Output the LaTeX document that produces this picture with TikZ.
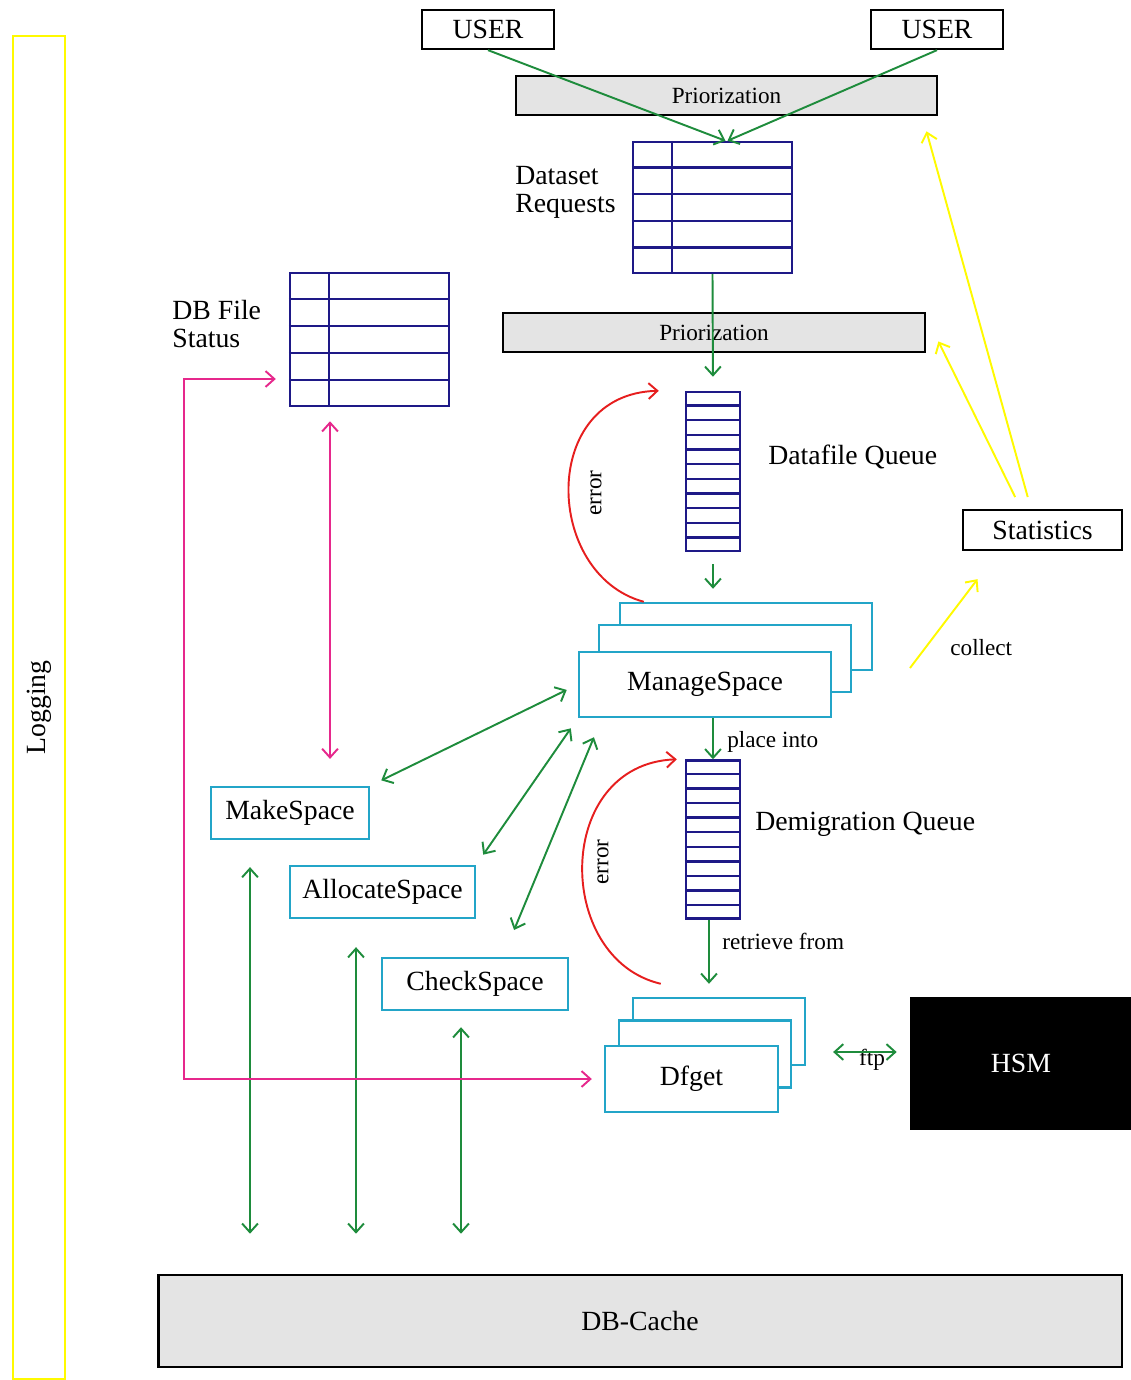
\documentclass[tikz,border=0pt]{standalone}
\usepackage{fontspec}
\setmainfont{Liberation Serif}
\usetikzlibrary{arrows.meta,calc}
\pgfdeclarelayer{bg}
\pgfsetlayers{bg,main}

\definecolor{navytab}{RGB}{30,25,135}
\definecolor{cyanbox}{RGB}{35,165,200}
\definecolor{flowgreen}{RGB}{30,140,60}
\definecolor{errred}{RGB}{230,30,30}
\definecolor{linkpink}{RGB}{230,40,140}
\definecolor{statyellow}{RGB}{255,250,0}
\definecolor{bargray}{RGB}{228,228,228}

\tikzset{
  bigtext/.style={font=\fontsize{15.8}{16}\selectfont},
  smalltext/.style={font=\fontsize{13.2}{14}\selectfont},
  blackbox/.style={draw=black, line width=1.3pt, inner sep=0pt, bigtext},
  graybar/.style={draw=black, fill=bargray, line width=1.6pt, inner sep=0pt},
  tabbox/.style={draw=navytab, line width=1.4pt, inner sep=0pt},
  tabline/.style={draw=navytab, line width=1.4pt},
  proc/.style={draw=cyanbox, fill=white, line width=1.4pt, inner sep=0pt, bigtext},
  garr/.style={draw=flowgreen, line width=1.1pt, ->},
  gdbl/.style={draw=flowgreen, line width=1.1pt, <->},
  yarr/.style={draw=statyellow, line width=1.1pt, ->},
  parr/.style={draw=linkpink, line width=1.1pt, <->},
  rarr/.style={draw=errred, line width=1.1pt, ->},
  >={Straight Barb[length=5pt,width=9pt]},
}

\begin{document}
\begin{tikzpicture}[x=0.02cm, y=-0.02cm]
        \useasboundingbox (0,0) rectangle (1130,1380);
        \node (log) [draw=statyellow, line width=1.3pt, minimum width=26.86cm, minimum height=1.04cm, inner sep=0pt, rotate=90, bigtext] at (39, 707.5) {Logging};
        \node (u1) [blackbox, minimum width=2.64cm, minimum height=0.78cm] at (488, 29.5) {USER};
        \node (u2) [blackbox, minimum width=2.64cm, minimum height=0.78cm] at (937, 29.5) {USER};
        \node (p1) [graybar, minimum width=8.42cm, minimum height=0.78cm, smalltext] at (726.5, 95.5) {Priorization};
        \node (dsr) [tabbox, minimum width=3.18cm, minimum height=2.62cm] at (712.5, 207.5) {};
        \node (lds) [bigtext, align=left, anchor=west, inner sep=0pt] at (515, 192) {Dataset\\Requests};
        \node (dbf) [tabbox, minimum width=3.18cm, minimum height=2.66cm] at (369.5, 339.5) {};
        \node (ldbf) [bigtext, align=left, anchor=west, inner sep=0pt] at (172, 324) {DB File\\Status};
        \node (p2) [graybar, minimum width=8.44cm, minimum height=0.78cm, smalltext] at (714, 332.5) {Priorization};
        \node (dfq) [tabbox, minimum width=1.08cm, minimum height=3.18cm] at (713, 471.5) {};
        \node (ldfq) [bigtext, anchor=west, inner sep=0pt] at (768, 457) {Datafile Queue};
        \node (st) [blackbox, minimum width=3.18cm, minimum height=0.8cm] at (1042.5, 530) {Statistics};
        \begin{pgfonlayer}{bg}
                \node (msb) [proc, minimum width=5.04cm, minimum height=1.34cm] at (746, 636.5) {};
                \node (msm) [proc, minimum width=5.04cm, minimum height=1.34cm] at (725, 658.5) {};
                \node (dfb) [proc, minimum width=3.44cm, minimum height=1.34cm] at (719, 1031.5) {};
                \node (dfm) [proc, minimum width=3.44cm, minimum height=1.34cm] at (705, 1054) {};
        \end{pgfonlayer}
        \node (ms) [proc, minimum width=5.04cm, minimum height=1.3cm] at (705, 684.5) {ManageSpace};
        \node (dmq) [tabbox, minimum width=1.08cm, minimum height=3.16cm] at (713, 839.5) {};
        \node (ldmq) [bigtext, anchor=west, inner sep=0pt] at (755, 824) {Demigration Queue};
        \node (dfg) [proc, minimum width=3.46cm, minimum height=1.32cm] at (691.5, 1079) {Dfget};
        \node (hsm) [fill=black, text=white, minimum width=4.44cm, minimum height=2.66cm, inner sep=0pt, bigtext] at (1021, 1063.5) {HSM};
        \node (mk) [proc, minimum width=3.16cm, minimum height=1.04cm] at (290, 813) {MakeSpace};
        \node (al) [proc, minimum width=3.7cm, minimum height=1.04cm] at (382.5, 892) {AllocateSpace};
        \node (cs) [proc, minimum width=3.72cm, minimum height=1.04cm] at (475, 984) {CheckSpace};
        \node (dbc) [graybar, minimum width=19.28cm, minimum height=1.84cm, bigtext] at (640, 1321) {DB-Cache};
        \node (err1) [smalltext, rotate=90] at (596, 493) {error};
        \node (err2) [smalltext, rotate=90] at (603, 862) {error};
        \node (lplace) [smalltext, anchor=west, inner sep=0pt] at (727, 742) {place into};
        \node (lret) [smalltext, anchor=west, inner sep=0pt] at (722, 941) {retrieve from};
        \node (lcol) [smalltext, anchor=west, inner sep=0pt] at (950, 648) {collect};
        \node (lftp) [smalltext, inner sep=0pt] at (872, 1060) {ftp};
        \coordinate (colfoot) at (910, 668);
        \coordinate (pinkbend) at (184, 1079);
        \foreach \i in {1,...,4} {
                \draw[tabline] ($(dsr.north west)!\i/5!(dsr.south west)$) -- ($(dsr.north east)!\i/5!(dsr.south east)$);
                \draw[tabline] ($(dbf.north west)!\i/5!(dbf.south west)$) -- ($(dbf.north east)!\i/5!(dbf.south east)$);
        }
        \draw[tabline] ([xshift=0.8cm]dsr.north west) -- ([xshift=0.8cm]dsr.south west);
        \draw[tabline] ([xshift=0.8cm]dbf.north west) -- ([xshift=0.8cm]dbf.south west);
        \foreach \i in {1,...,10} {
                \draw[tabline] ($(dfq.north west)!\i/11!(dfq.south west)$) -- ($(dfq.north east)!\i/11!(dfq.south east)$);
                \draw[tabline] ($(dmq.north west)!\i/11!(dmq.south west)$) -- ($(dmq.north east)!\i/11!(dmq.south east)$);
        }
        \draw (u1.south) edge [garr] ([xshift=0.26cm]dsr.north);
        \draw (u2.south) edge [garr] ([xshift=0.3cm]dsr.north);
        \draw (dsr.south) edge [garr, shorten >=8pt] (dfq.north);
        \draw (dfq.south) edge [garr, shorten <=6.8pt, shorten >=7.4pt] (dfq.south |- msb.north);
        \draw (dmq.north |- ms.south) edge [garr] (dmq.north);
        \draw ([xshift=-0.08cm]dmq.south) edge [garr, shorten >=7.4pt] ([xshift=-0.08cm]dmq.south |- dfb.north);
        \draw ([yshift=0.23cm]hsm.west) edge [gdbl, shorten <=7.4pt, shorten >=15.3pt] ([yshift=0.23cm]hsm.west -| dfb.east);
        \draw[rarr] ([xshift=0.5cm]msb.north west) .. controls +(-100,-27) and +(-120,3) .. ([xshift=-0.52cm]dfq.north west);
        \draw[rarr] ([shift={(0.58cm,0.26cm)}]dfb.north west) .. controls +(-107,-25) and +(-123,5) .. ([xshift=-0.16cm]dmq.north west);
        \draw ([xshift=-0.23cm]st.north) edge [yarr, shorten <=7pt, shorten >=8.8pt] ([xshift=-0.32cm]p1.south east);
        \draw ([xshift=-0.43cm]st.north) edge [yarr, shorten <=7.5pt] ([shift={(0.24cm,0.24cm)}]p2.south east);
        \draw (colfoot) edge [yarr] ([shift={(-1.3cm,-0.56cm)}]st.south);
        \draw (ms.west) edge [gdbl, shorten <=7pt, shorten >=7pt] (mk.north east);
        \draw (ms.south west) edge [gdbl, shorten <=7pt, shorten >=7pt] (al.north east);
        \draw ([xshift=0.48cm]ms.south west) edge [gdbl, shorten <=11.7pt, shorten >=16.5pt] ([xshift=0.56cm]cs.north);
        \draw ([xshift=-0.8cm]mk.south) edge [gdbl, shorten <=15.3pt, shorten >=22.7pt] ([xshift=-0.8cm]mk.south |- dbc.north);
        \draw ([xshift=-0.53cm]al.south) edge [gdbl, shorten <=15.9pt, shorten >=22.7pt] ([xshift=-0.53cm]al.south |- dbc.north);
        \draw ([xshift=-0.28cm]cs.south) edge [gdbl, shorten <=9.1pt, shorten >=22.7pt] ([xshift=-0.28cm]cs.south |- dbc.north);
        \draw ([xshift=-0.79cm]dbf.south) edge [parr, shorten <=8pt, shorten >=15.3pt] ([xshift=-0.79cm]dbf.south |- mk.north);
        \draw[parr] ([shift={(-0.26cm,-0.79cm)}]dbf.west) -| (pinkbend) -- ([xshift=-0.24cm]dfg.west);
\end{tikzpicture}
\end{document}
